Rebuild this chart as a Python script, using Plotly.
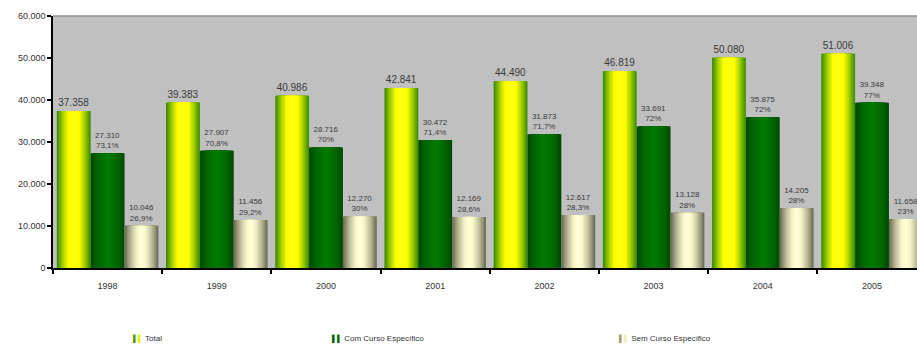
import plotly.graph_objects as go

# Teachers by year: total and split by specific training course
anos = ["1998", "1999", "2000", "2001", "2002", "2003", "2004", "2005"]
total = [37358, 39383, 40986, 42841, 44490, 46819, 50080, 51006]
com_curso = [27310, 27907, 28716, 30472, 31873, 33691, 35875, 39348]
com_pct = ["73,1%", "70,8%", "70%", "71,4%", "71,7%", "72%", "72%", "77%"]
sem_curso = [10046, 11456, 12270, 12169, 12617, 13128, 14205, 11658]
sem_pct = ["26,9%", "29,2%", "30%", "28,6%", "28,3%", "28%", "28%", "23%"]
y_ticks = [0, 10000, 20000, 30000, 40000, 50000, 60000]

FONT = "Liberation Sans, Arial, sans-serif"


def fmt(v):
    return f"{v:,}".replace(",", ".")


def mix(c1, c2, t):
    a = [int(c1[i:i + 2], 16) for i in (1, 3, 5)]
    b = [int(c2[i:i + 2], 16) for i in (1, 3, 5)]
    return "rgb(%d,%d,%d)" % tuple(round(a[i] + (b[i] - a[i]) * t) for i in range(3))


def color_at(stops, t):
    # stops: list of (pos, hex) from bar edge (0) to bar centre (1)
    for (p0, c0), (p1, c1) in zip(stops, stops[1:]):
        if t <= p1:
            return mix(c0, c1, (t - p0) / (p1 - p0) if p1 > p0 else 0)
    return mix(stops[-1][1], stops[-1][1], 0)


SLOT = 0.31
OFFSETS = [-0.465, -0.155, 0.155]
N_LAYERS = 14

series = [
    dict(name="Total", y=total,
         text=[fmt(v) for v in total], size=10,
         stops=[(0, "#3f8f00"), (0.35, "#a6d000"), (0.7, "#ffff00"), (1, "#ffff10")],
         key="<span style='color:#4f9a00'>▌</span><span style='color:#e8f000'>▌</span>",
         lx=131),
    dict(name="Com Curso Específico", y=com_curso,
         text=[f"{fmt(v)}<br>{p}" for v, p in zip(com_curso, com_pct)], size=8,
         stops=[(0, "#004a00"), (0.4, "#006600"), (1, "#007a00")],
         key="<span style='color:#006000'>▌</span><span style='color:#007000'>▌</span>",
         lx=330),
    dict(name="Sem Curso Específico", y=sem_curso,
         text=[f"{fmt(v)}<br>{p}" for v, p in zip(sem_curso, sem_pct)], size=8,
         stops=[(0, "#6e6e56"), (0.35, "#b8b896"), (0.75, "#f4f4c8"), (1, "#ffffd8")],
         key="<span style='color:#9a9a70'>▌</span><span style='color:#eeeec0'>▌</span>",
         lx=617),
]

fig = go.Figure()

for s_idx, s in enumerate(series):
    off = OFFSETS[s_idx]
    for k in range(N_LAYERS):
        frac = 1 - k / N_LAYERS
        w = SLOT * frac
        o = off + (SLOT - w) / 2
        first = k == 0
        fig.add_trace(go.Bar(
            x=anos, y=s["y"],
            width=w, offset=o,
            marker=dict(color=color_at(s["stops"], k / (N_LAYERS - 1)), line=dict(width=0)),
            name=s["name"],
            showlegend=False,
            text=s["text"] if first else None,
            textposition="outside" if first else "none",
            textfont=dict(size=s["size"], color="#3a3a3a", family=FONT),
            constraintext="none",
            cliponaxis=True,
            hoverinfo="skip" if not first else None,
        ))

# Key row under the chart
PLOT_L, PLOT_W, PLOT_B, PLOT_H = 53, 864, 268, 252
annotations = []
for s in series:
    annotations.append(dict(
        xref="paper", yref="paper",
        x=(s["lx"] - PLOT_L) / PLOT_W, y=(PLOT_B - 339) / PLOT_H,
        xanchor="left", yanchor="middle", showarrow=False,
        text=f"<span style='font-size:7px'>{s['key']}</span> {s['name']}",
        font=dict(size=8, color="#333333", family=FONT),
    ))

fig.update_layout(
    width=917, height=344,
    margin=dict(l=53, r=0, t=16, b=76),
    paper_bgcolor="white",
    plot_bgcolor="#c0c0c0",
    barmode="overlay",
    separators=",.",
    showlegend=False,
    font=dict(family=FONT, size=9, color="#333333"),
    xaxis=dict(
        type="category", range=[-0.5, 7.412],
        tickson="boundaries", ticks="outside", ticklen=4, tickwidth=1.5,
        tickcolor="black", showline=True, linecolor="black", linewidth=2,
        showgrid=False, tickfont=dict(size=9, color="#333333"),
        ticklabelstandoff=8,
    ),
    yaxis=dict(
        range=[0, 60000], tickvals=y_ticks, tickformat=",d",
        ticks="outside", ticklen=4, tickwidth=1.5, tickcolor="black",
        showline=True, linecolor="black", linewidth=1.5,
        showgrid=False, zeroline=False, tickfont=dict(size=9, color="#333333"),
    ),
    annotations=annotations,
    shapes=[dict(type="line", xref="paper", yref="paper", x0=0, x1=1, y0=1, y1=1,
                 line=dict(color="#909090", width=1.5))],
)

fig.write_html("out.html")
